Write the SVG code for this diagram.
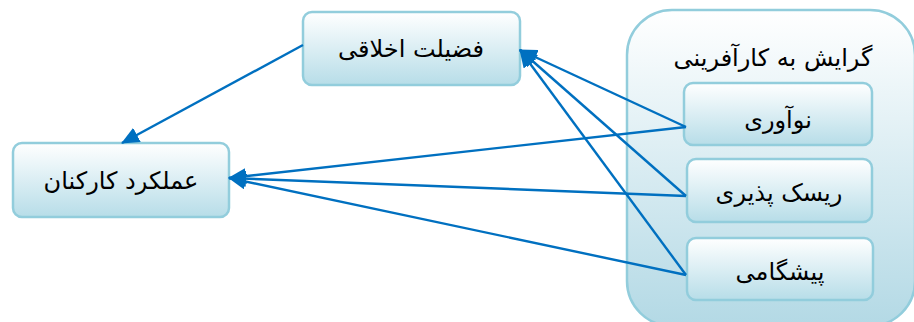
<svg xmlns="http://www.w3.org/2000/svg" width="914" height="322" viewBox="0 0 914 322">
<style>
.node{stroke:#92CDDC;stroke-width:2.5;fill:url(#g)}
.cont{stroke:#92CDDC;stroke-width:2.5;fill:url(#gc)}
.t{font-family:"DejaVu Sans","Noto Sans",sans-serif;font-size:24px;fill:#000;text-anchor:middle}
.c{stroke:#0070C0;stroke-width:2.4;fill:none}
</style>
<defs>
<linearGradient id="g" x1="0" y1="0" x2="0" y2="1">
<stop offset="0" stop-color="#FFFFFF"/>
<stop offset="1" stop-color="#B7DDE8"/>
</linearGradient>
<linearGradient id="gc" x1="0" y1="0" x2="0" y2="1">
<stop offset="0" stop-color="#FFFFFF"/>
<stop offset="1" stop-color="#B3D9E5"/>
</linearGradient>
<marker id="a" markerUnits="userSpaceOnUse" markerWidth="18" markerHeight="16" refX="17" refY="8" orient="auto" viewBox="0 0 18 16">
<path d="M0,0 L18,8 L0,16 Z" fill="#0070C0"/>
</marker>
</defs>
<g id="container">
<rect class="cont" x="627" y="10" width="288" height="316" rx="45"/>
<text class="t" x="773" y="66">گرایش به کارآفرینی</text>
</g>
<g id="n-amalkard">
<rect class="node" x="13" y="143" width="216" height="74" rx="9"/>
<text class="t" x="121" y="189">عملکرد کارکنان</text>
</g>
<g id="n-fazilat">
<rect class="node" x="303" y="12" width="217" height="73" rx="9"/>
<text class="t" x="411" y="57">فضیلت اخلاقی</text>
</g>
<g id="n-noavari">
<rect class="node" x="684" y="83" width="188" height="62" rx="9"/>
<text class="t" x="778" y="128">نوآوری</text>
</g>
<g id="n-risk">
<rect class="node" x="687" y="159" width="185" height="63" rx="9"/>
<text class="t" x="779" y="201">ریسک پذیری</text>
</g>
<g id="n-pishgami">
<rect class="node" x="687" y="238" width="186" height="62" rx="9"/>
<text class="t" x="780" y="280">پیشگامی</text>
</g>
<g id="connectors">
<line class="c" x1="303" y1="45" x2="122" y2="143" marker-end="url(#a)"/>
<line class="c" x1="686" y1="127" x2="520" y2="50" marker-end="url(#a)"/>
<line class="c" x1="686" y1="196" x2="520" y2="50" marker-end="url(#a)"/>
<line class="c" x1="686" y1="275" x2="520" y2="50" marker-end="url(#a)"/>
<line class="c" x1="686" y1="127" x2="229" y2="178" marker-end="url(#a)"/>
<line class="c" x1="686" y1="196" x2="229" y2="178" marker-end="url(#a)"/>
<line class="c" x1="686" y1="275" x2="229" y2="178" marker-end="url(#a)"/>
</g>
</svg>
